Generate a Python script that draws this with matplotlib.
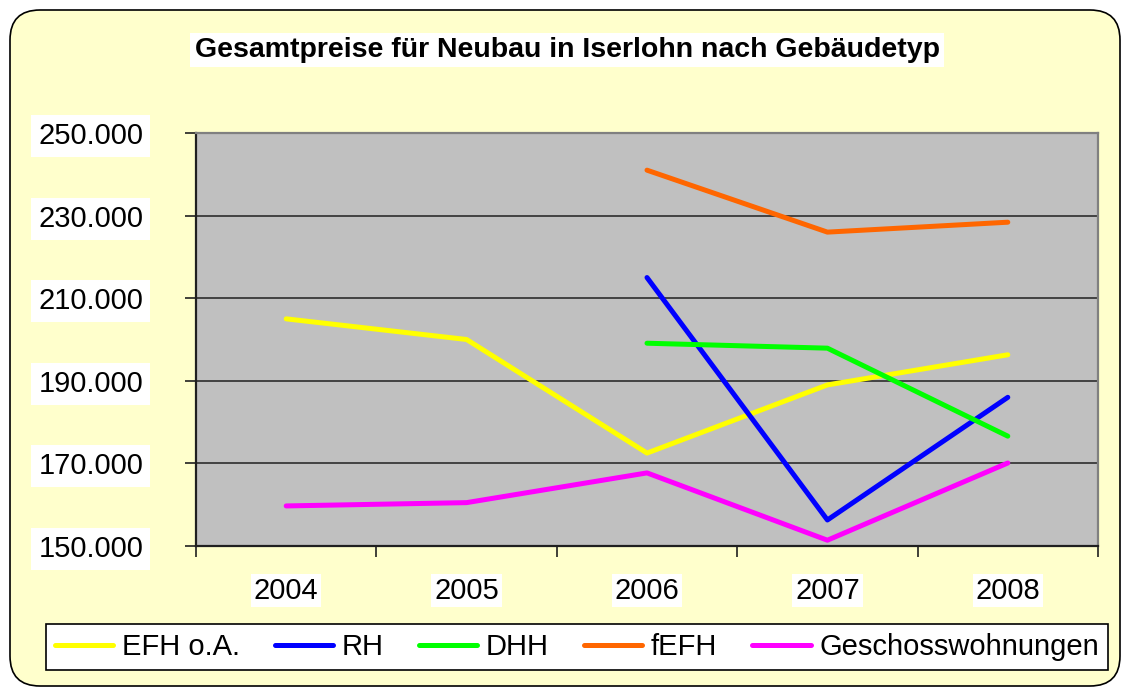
import matplotlib.pyplot as plt
from matplotlib.patches import FancyBboxPatch
from matplotlib.ticker import FuncFormatter

plt.rcParams['font.family'] = ['Liberation Sans', 'DejaVu Sans']

years = ["2004", "2005", "2006", "2007", "2008"]
efh = [205000, 200000, 172500, 189000, 196300]
rh = [None, None, 215000, 156300, 186000]
dhh = [None, None, 199100, 197900, 176600]
fefh = [None, None, 241000, 226000, 228400]
geschoss = [159700, 160500, 167700, 151400, 170100]

series = [
    ("EFH o.A.", efh, "#FFFF00"),
    ("RH", rh, "#0000FF"),
    ("DHH", dhh, "#00FF00"),
    ("fEFH", fefh, "#FF6600"),
    ("Geschosswohnungen", geschoss, "#FF00FF"),
]

fig = plt.figure(figsize=(11.23, 6.89), dpi=100, facecolor="white")

# rounded yellow background
bg = FancyBboxPatch((0.10, 0.03), 11.10, 6.76,
                    boxstyle="round,pad=0,rounding_size=0.3",
                    transform=fig.dpi_scale_trans, facecolor="#FFFFCC",
                    edgecolor="black", linewidth=1.2, zorder=-10)
fig.patches.append(bg)

ax = fig.add_axes([196 / 1123, 1 - 546 / 689, 902 / 1123, 413 / 689])
ax.set_facecolor("#C0C0C0")

x = list(range(len(years)))
for name, vals, col in series:
    xs = [i for i, v in zip(x, vals) if v is not None]
    ys = [v for v in vals if v is not None]
    ax.plot(xs, ys, color=col, linewidth=3.6, label=name,
            solid_capstyle="round", zorder=3)

ax.set_xlim(-0.5, len(years) - 0.5)
ax.set_ylim(150000, 250000)
ax.set_yticks(range(150000, 250001, 20000))
ax.yaxis.set_major_formatter(FuncFormatter(lambda v, p: f"{v:,.0f}".replace(",", ".")))
ax.yaxis.grid(True, color="#202020", linewidth=1.1)
ax.set_axisbelow(True)

ax.set_xticks([i + 0.5 for i in range(-1, len(years))], minor=False)
ax.set_xticklabels([])
ax.set_xticks(x, minor=True)
ax.set_xticklabels(years, minor=True)
ax.tick_params(axis="x", which="major", direction="out", length=8, width=1.2, color="#202020")
ax.tick_params(axis="x", which="minor", length=0, pad=22, labelsize=21)
ax.tick_params(axis="y", direction="out", length=8, width=1.2, color="#202020",
               labelsize=21, pad=30)

for lbl in ax.get_xticklabels(minor=True):
    lbl.set_bbox(dict(facecolor="white", edgecolor="none", pad=2))
for lbl in ax.get_yticklabels():
    lbl.set_bbox(dict(facecolor="white", edgecolor="none", pad=5))

ax.spines["left"].set_color("#202020")
ax.spines["bottom"].set_color("#202020")
ax.spines["left"].set_linewidth(1.6)
ax.spines["bottom"].set_linewidth(1.6)
ax.spines["top"].set_color("#808080")
ax.spines["right"].set_color("#808080")
ax.spines["top"].set_linewidth(1.6)
ax.spines["right"].set_linewidth(1.6)

fig.text(0.505, 1 - 50 / 689, "Gesamtpreise für Neubau in Iserlohn nach Gebäudetyp",
         ha="center", va="center", fontsize=20.5, fontweight="bold",
         bbox=dict(facecolor="white", edgecolor="none", pad=3))

leg = fig.legend(loc="center", bbox_to_anchor=(577 / 1123, 1 - 647 / 689), ncol=5,
                 fontsize=21, frameon=True, fancybox=False, handlelength=2.0,
                 handletextpad=0.3, columnspacing=1.2, borderpad=0.3,
                 framealpha=1)
leg.get_frame().set_edgecolor("black")
leg.get_frame().set_linewidth(1.2)
leg.get_frame().set_facecolor("white")

fig.savefig("out.png", dpi=100)
